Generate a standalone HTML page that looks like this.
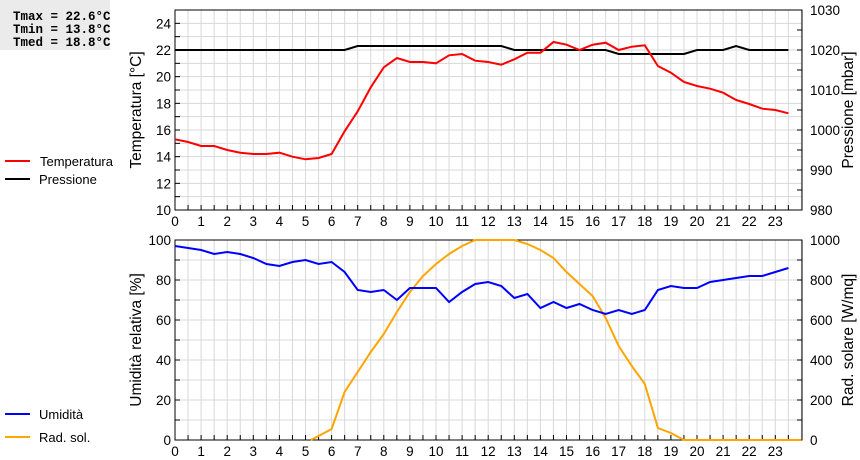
<!DOCTYPE html>
<html><head><meta charset="utf-8"><style>
body{margin:0;background:#fff;width:860px;height:460px;overflow:hidden}
svg{display:block;font-family:"Liberation Sans",sans-serif}
</style></head><body>
<svg id="s" width="860" height="460" xmlns="http://www.w3.org/2000/svg"></svg>
<script>
const s=document.getElementById('s');
let h='';
const X0=175,XR=802,PX=26.1;
const xh=t=>X0+t*PX;
h+='<rect x="0" y="0" width="110" height="50" fill="#ebebeb"/>';
h+='<text font-family="Liberation Mono,monospace" font-weight="bold" font-size="12.5" fill="#000"><tspan x="13" y="20">Tmax = 22.6°C</tspan><tspan x="13" y="33">Tmin = 13.8°C</tspan><tspan x="13" y="46">Tmed = 18.8°C</tspan></text>';
function panel(top,bot,nMinor,nMinorR,lblL,fyL,lblR,fyR,ttlL,ttlR){
  for(let i=1;i<48.1;i++){const x=xh(i*0.5);if(x<XR)h+=`<line x1="${x}" y1="${top}" x2="${x}" y2="${bot}" stroke="#d8d8d8"/>`;}
  for(let i=1;i<nMinor;i++){const y=top+(bot-top)*i/nMinor;h+=`<line x1="${X0}" y1="${y}" x2="${XR}" y2="${y}" stroke="#d8d8d8"/>`;}
  for(let i=0;i<=nMinor;i++){const y=top+(bot-top)*i/nMinor;h+=`<line x1="${X0}" y1="${y}" x2="${X0+5}" y2="${y}" stroke="#000"/>`;}
  for(let i=0;i<=nMinorR;i++){const y=top+(bot-top)*i/nMinorR;h+=`<line x1="${XR-5}" y1="${y}" x2="${XR}" y2="${y}" stroke="#000"/>`;}
  for(let i=0;i<48;i++){const x=xh(i*0.5);h+=`<line x1="${x}" y1="${bot}" x2="${x}" y2="${bot-5}" stroke="#000"/>`;}
  h+=`<rect x="${X0}" y="${top}" width="${XR-X0}" height="${bot-top}" fill="none" stroke="#000"/>`;
  lblL.forEach(v=>{const y=fyL(v);h+=`<text x="${X0-4}" y="${y+5}" font-size="13.5" text-anchor="end">${v}</text>`;});
  lblR.forEach(v=>{const y=fyR(v);h+=`<text x="${XR+8}" y="${y+5}" font-size="13.5">${v}</text>`;});
  for(let i=0;i<=23;i++)h+=`<text x="${xh(i)}" y="${bot+16}" font-size="13.5" text-anchor="middle">${i}</text>`;
  const cy=(top+bot)/2;
  h+=`<text transform="translate(141,${cy}) rotate(-90)" font-size="15.5" text-anchor="middle">${ttlL}</text>`;
  h+=`<text transform="translate(853,${cy}) rotate(-90)" font-size="15.5" text-anchor="middle">${ttlR}</text>`;
}
const fT=v=>210-(v-10)*200/15, fP=v=>210-(v-980)*4, fH=v=>440-v*2, fR=v=>440-v*0.2;
panel(10,210,15,10,[10,12,14,16,18,20,22,24],fT,[980,990,1000,1010,1020,1030],fP,'Temperatura [°C]','Pressione [mbar]');
panel(240,440,10,10,[0,20,40,60,80,100],fH,[0,200,400,600,800,1000],fR,'Umidità relativa [%]','Rad. solare [W/mq]');
function line(data,fy,col){let p=[];data.forEach((v,i)=>{p.push(xh(i*0.5).toFixed(1)+','+fy(v).toFixed(1));});h+=`<polyline points="${p.join(' ')}" fill="none" stroke="${col}" stroke-width="2"/>`;}
const T=[15.3,15.1,14.8,14.8,14.5,14.3,14.2,14.2,14.3,14.0,13.8,13.9,14.2,15.9,17.4,19.2,20.7,21.4,21.1,21.1,21.0,21.6,21.7,21.2,21.1,20.9,21.3,21.8,21.8,22.6,22.4,22.0,22.4,22.55,22.0,22.25,22.35,20.8,20.3,19.6,19.3,19.1,18.8,18.25,17.95,17.6,17.5,17.25];
const P=[];for(let i=0;i<48;i++){const t=i*0.5;let v=1020;if(t>=7&&t<=12.5)v=1021;if(t>=17&&t<=19.5)v=1019;if(t==21.5)v=1021;P.push(v);}
const H=[97,96,95,93,94,93,91,88,87,89,90,88,89,84,75,74,75,70,76,76,76,69,74,78,79,77,71,73,66,69,66,68,65,63,65,63,65,75,77,76,76,79,80,81,82,82,84,86];
const R=[20,55,240,340,440,530,640,740,820,880,930,970,1000,1000,1000,1000,980,950,910,840,780,720,610,470,370,280,60,35,0,0,0,0,0,0,0,0,0,0];
line(P,fP,'#000');
line(T,fT,'#ff0000');
h+=`<polyline points="${xh(5.2)},440 ${R.map((v,i)=>xh(5.5+i*0.5).toFixed(1)+','+fR(v).toFixed(1)).join(' ')}" fill="none" stroke="#ffa500" stroke-width="2"/>`;
line(H,fH,'#0000ff');
h+='<line x1="5" y1="161" x2="30" y2="161" stroke="#ff0000" stroke-width="2"/><text x="40" y="166" font-size="13">Temperatura</text>';
h+='<line x1="5" y1="179" x2="30" y2="179" stroke="#000" stroke-width="2"/><text x="39" y="184" font-size="13">Pressione</text>';
h+='<line x1="5" y1="414" x2="30" y2="414" stroke="#0000ff" stroke-width="2"/><text x="39" y="419" font-size="13">Umidità</text>';
h+='<line x1="5" y1="437" x2="30" y2="437" stroke="#ffa500" stroke-width="2"/><text x="39" y="442" font-size="13">Rad. sol.</text>';
s.innerHTML=h;
</script>
</body></html>
